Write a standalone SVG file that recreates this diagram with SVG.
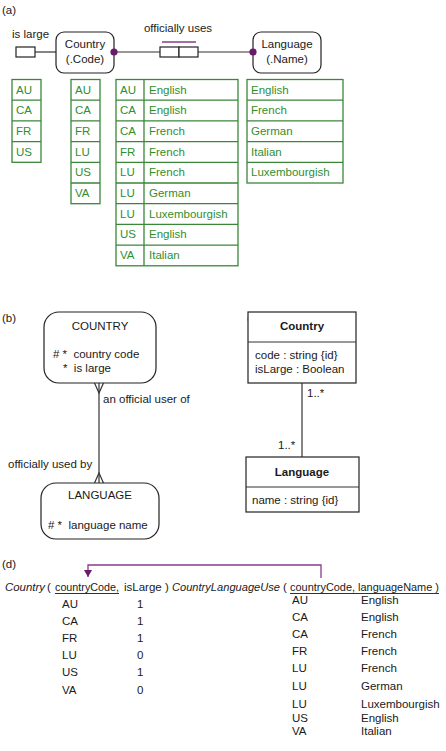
<svg xmlns="http://www.w3.org/2000/svg" width="446" height="751" viewBox="0 0 446 751">
<style>
text{font-family:"Liberation Sans",Arial,sans-serif;font-size:11.5px;fill:#1a1a1a}
.g{fill:#2f8f2f}
.gt{fill:none;stroke:#3a873a;stroke-width:1.3}
.ln{fill:none;stroke:#333;stroke-width:1.2}
.box{fill:#fff;stroke:#222;stroke-width:1.2}
.b{font-weight:bold}
.i{font-style:italic}
.mid{text-anchor:middle}
.pre{white-space:pre}
.pu{fill:none;stroke:#8a3a8a;stroke-width:1.3}
</style>
<defs>
<marker id="arr" markerWidth="8" markerHeight="8" refX="7" refY="4" orient="auto" markerUnits="userSpaceOnUse">
<path d="M0,0 L7,4 L0,8 Z" fill="#6a1a6a"/>
</marker>
</defs>

<!-- (a) -->
<text x="2" y="14">(a)</text>
<g id="connectors-a">
<line class="ln" x1="35" y1="52" x2="56" y2="52"/>
<line class="ln" x1="114" y1="52" x2="253" y2="52"/>
<line x1="162" y1="42" x2="196" y2="42" stroke="#8a3a8a" stroke-width="1.3"/>
</g>
<g id="isLarge">
<text x="12" y="38">is large</text>
<rect class="box" x="16" y="47" width="19" height="10"/>
</g>
<g id="countryA">
<rect class="box" x="56" y="32" width="58" height="41" rx="8"/>
<text class="mid" x="85" y="48">Country</text>
<text class="mid" x="85" y="63">(.Code)</text>
<circle cx="114" cy="52" r="3.6" fill="#6a1a6a"/>
</g>
<g id="officiallyUses">
<text class="mid" x="178" y="32">officially uses</text>
<rect class="box" x="160" y="47" width="19" height="10"/>
<rect class="box" x="179" y="47" width="19" height="10"/>
</g>
<g id="languageA">
<rect class="box" x="253" y="32" width="68" height="41" rx="8"/>
<text class="mid" x="287" y="48">Language</text>
<text class="mid" x="287" y="63">(.Name)</text>
<circle cx="253" cy="52" r="3.6" fill="#6a1a6a"/>
</g>

<g id="table1">
<rect class="gt" x="12" y="79.5" width="29" height="82.8"/>
<path class="gt" d="M12,100.2H41M12,120.9H41M12,141.6H41"/>
<text class="g" x="16" y="93.5">AU</text>
<text class="g" x="16" y="114.2">CA</text>
<text class="g" x="16" y="134.9">FR</text>
<text class="g" x="16" y="155.6">US</text>
</g>
<g id="table2">
<rect class="gt" x="71" y="79.5" width="29" height="124.2"/>
<path class="gt" d="M71,100.2H100M71,120.9H100M71,141.6H100M71,162.3H100M71,183H100"/>
<text class="g" x="75" y="93.5">AU</text>
<text class="g" x="75" y="114.2">CA</text>
<text class="g" x="75" y="134.9">FR</text>
<text class="g" x="75" y="155.6">LU</text>
<text class="g" x="75" y="176.3">US</text>
<text class="g" x="75" y="197">VA</text>
</g>
<g id="table3">
<rect class="gt" x="116" y="79.5" width="122" height="186.3"/>
<path class="gt" d="M144,79.5V265.8M116,100.2H238M116,120.9H238M116,141.6H238M116,162.3H238M116,183H238M116,203.7H238M116,224.4H238M116,245.1H238"/>
<text class="g" x="120" y="93.5">AU</text><text class="g" x="149" y="93.5">English</text>
<text class="g" x="120" y="114.2">CA</text><text class="g" x="149" y="114.2">English</text>
<text class="g" x="120" y="134.9">CA</text><text class="g" x="149" y="134.9">French</text>
<text class="g" x="120" y="155.6">FR</text><text class="g" x="149" y="155.6">French</text>
<text class="g" x="120" y="176.3">LU</text><text class="g" x="149" y="176.3">French</text>
<text class="g" x="120" y="197">LU</text><text class="g" x="149" y="197">German</text>
<text class="g" x="120" y="217.7">LU</text><text class="g" x="149" y="217.7">Luxembourgish</text>
<text class="g" x="120" y="238.4">US</text><text class="g" x="149" y="238.4">English</text>
<text class="g" x="120" y="259.1">VA</text><text class="g" x="149" y="259.1">Italian</text>
</g>
<g id="table4">
<rect class="gt" x="247" y="79.5" width="96" height="103.5"/>
<path class="gt" d="M247,100.2H343M247,120.9H343M247,141.6H343M247,162.3H343"/>
<text class="g" x="251" y="93.5">English</text>
<text class="g" x="251" y="114.2">French</text>
<text class="g" x="251" y="134.9">German</text>
<text class="g" x="251" y="155.6">Italian</text>
<text class="g" x="251" y="176.3">Luxembourgish</text>
</g>

<!-- (b) -->
<text x="2" y="322">(b)</text>
<g id="connectors-b">
<line class="ln" x1="99" y1="383" x2="99" y2="483"/>
<path class="ln" d="M94.5,383L99,393L103.5,383"/>
<path class="ln" d="M94.5,483L99,473L103.5,483"/>
<text x="103" y="403">an official user of</text>
<text x="8" y="468">officially used by</text>
</g>
<g id="countryB">
<rect class="box" x="44" y="312" width="112" height="71" rx="15"/>
<text class="mid" x="100" y="330">COUNTRY</text>
<text class="pre" x="53" y="358"># *  country code</text>
<text class="pre" x="63" y="372">*  is large</text>
</g>
<g id="languageB">
<rect class="box" x="41" y="483" width="118" height="56" rx="15"/>
<text class="mid" x="100" y="499">LANGUAGE</text>
<text class="pre" x="48" y="529"># *  language name</text>
</g>

<!-- (c) -->
<text x="247" y="322">(c)</text>
<g id="connectors-c">
<line class="ln" x1="302" y1="383" x2="302" y2="457"/>
<text x="307" y="397">1..*</text>
<text x="278" y="449">1..*</text>
</g>
<g id="countryC">
<rect class="box" x="248" y="312" width="108" height="71"/>
<line class="ln" x1="248" y1="342" x2="356" y2="342"/>
<text class="mid b" x="302" y="330">Country</text>
<text x="255" y="359">code : string {id}</text>
<text x="255" y="373">isLarge : Boolean</text>
</g>
<g id="languageC">
<rect class="box" x="246" y="457" width="113" height="55"/>
<line class="ln" x1="246" y1="487" x2="359" y2="487"/>
<text class="mid b" x="302" y="476">Language</text>
<text x="252" y="504">name : string {id}</text>
</g>

<!-- (d) -->
<text x="2" y="568">(d)</text>
<g id="connectors-d">
<path class="pu" d="M321,578V565H88V577" marker-end="url(#arr)"/>
</g>
<g id="countryD">
<text class="i" x="5" y="591" textLength="40" lengthAdjust="spacingAndGlyphs">Country</text>
<text x="47" y="591">(</text>
<text x="55" y="591" textLength="64" lengthAdjust="spacingAndGlyphs">countryCode,</text>
<line x1="55" y1="593.5" x2="119" y2="593.5" stroke="#1a1a1a" stroke-width="0.9"/>
<text x="124" y="591">isLarge )</text>
<text x="62" y="608">AU</text><text x="137" y="608">1</text>
<text x="62" y="625">CA</text><text x="137" y="625">1</text>
<text x="62" y="642">FR</text><text x="137" y="642">1</text>
<text x="62" y="659">LU</text><text x="137" y="659">0</text>
<text x="62" y="676">US</text><text x="137" y="676">1</text>
<text x="62" y="694">VA</text><text x="137" y="694">0</text>
</g>
<g id="countryLanguageUseD">
<text class="i" x="172" y="591" textLength="108" lengthAdjust="spacingAndGlyphs">CountryLanguageUse</text>
<text x="283" y="591">(</text>
<text x="290" y="591" textLength="149" lengthAdjust="spacingAndGlyphs">countryCode, languageName )</text>
<line x1="290" y1="593.5" x2="439" y2="593.5" stroke="#1a1a1a" stroke-width="0.9"/>
<text x="292" y="604">AU</text><text x="361" y="604">English</text>
<text x="292" y="621">CA</text><text x="361" y="621">English</text>
<text x="292" y="638">CA</text><text x="361" y="638">French</text>
<text x="292" y="655">FR</text><text x="361" y="655">French</text>
<text x="292" y="672">LU</text><text x="361" y="672">French</text>
<text x="292" y="690">LU</text><text x="361" y="690">German</text>
<text x="292" y="708">LU</text><text x="361" y="708">Luxembourgish</text>
<text x="292" y="722">US</text><text x="361" y="722">English</text>
<text x="292" y="735">VA</text><text x="361" y="735">Italian</text>
</g>
</svg>
